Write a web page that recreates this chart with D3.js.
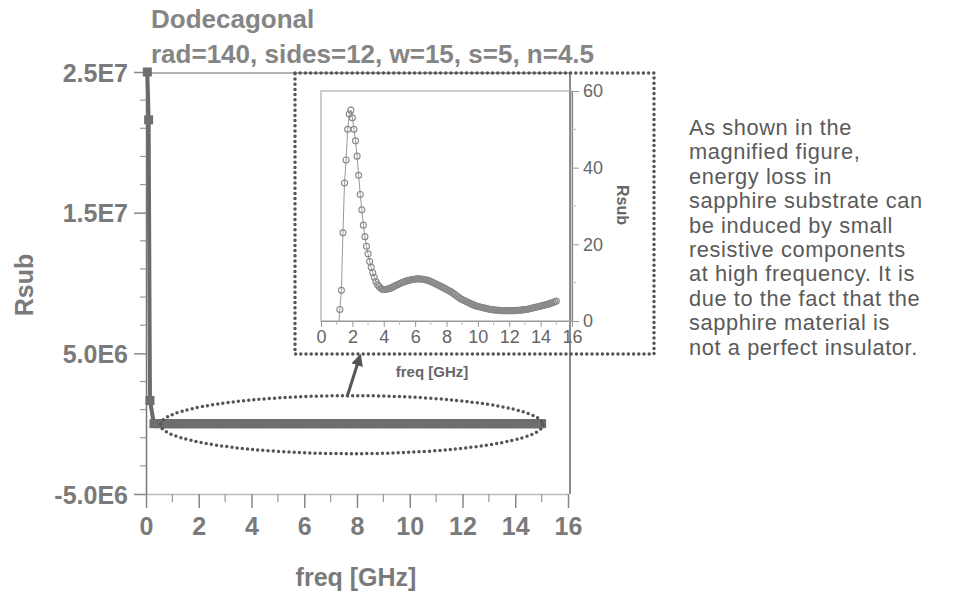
<html>
<head>
<meta charset="UTF-8">
<title>Rsub vs freq</title>
<script src="https://d3js.org/d3.v7.min.js"></script>
<style>
  body { margin: 0; background: #fff; }
  text { font-family: "Liberation Sans", Arial, sans-serif; }
  .lbl { font-weight: bold; fill: #7a7a7a; }
  .note { fill: #5a5a5a; font-size: 21.8px; letter-spacing: 0.6px; }
</style>
</head>
<body>
<svg id="chart" width="957" height="596"></svg>
<script>
// ---- data ----
const freqGHz = [
  0.05,0.1,0.15,0.3,0.45,0.6,0.7,0.8,0.9,1.0,
  1.1,1.2,1.3,1.4,1.5,1.6,1.7,1.8,1.9,2.0,
  2.1,2.2,2.3,2.4,2.5,2.6,2.7,2.8,2.9,3.0,
  3.1,3.2,3.3,3.4,3.5,3.6,3.7,3.8,3.9,4.0,
  4.1,4.2,4.3,4.4,4.5,4.6,4.7,4.8,4.9,5.0,
  5.1,5.2,5.3,5.4,5.5,5.6,5.7,5.8,5.9,6.0,
  6.1,6.2,6.3,6.4,6.5,6.6,6.7,6.8,6.9,7.0,
  7.1,7.2,7.3,7.4,7.5,7.6,7.7,7.8,7.9,8.0,
  8.1,8.2,8.3,8.4,8.5,8.6,8.7,8.8,8.9,9.0,
  9.1,9.2,9.3,9.4,9.5,9.6,9.7,9.8,9.9,10.0,
  10.1,10.2,10.3,10.4,10.5,10.6,10.7,10.8,10.9,11.0,
  11.1,11.2,11.3,11.4,11.5,11.6,11.7,11.8,11.9,12.0,
  12.1,12.2,12.3,12.4,12.5,12.6,12.7,12.8,12.9,13.0,
  13.1,13.2,13.3,13.4,13.5,13.6,13.7,13.8,13.9,14.0,
  14.1,14.2,14.3,14.4,14.5,14.6,14.7,14.8,14.9,15.0
];
const rsub = [
  2.5e7,2.16e7,1.65e6,-38,-34,-30,-26,-21,-15,-9,
  -3,3,8,23,36,42,50,54,55,53,
  50,47,43,38,33,29,25,22,19.5,17.5,
  15.5,14,12.6,11.4,10.3,9.5,9.0,8.6,8.3,8.2,
  8.2,8.3,8.4,8.5,8.7,8.9,9.1,9.3,9.5,9.7,
  9.9,10.1,10.2,10.4,10.5,10.6,10.7,10.8,10.9,10.9,
  11.0,11.0,11.0,10.9,10.9,10.8,10.7,10.6,10.5,10.3,
  10.1,9.9,9.7,9.5,9.3,9.1,8.9,8.7,8.5,8.2,
  8.0,7.8,7.6,7.3,7.0,6.7,6.4,6.1,5.8,5.6,
  5.4,5.2,5.0,4.8,4.6,4.4,4.2,4.1,3.9,3.8,
  3.7,3.6,3.5,3.4,3.3,3.2,3.1,3.0,3.0,2.9,
  2.9,2.8,2.8,2.8,2.7,2.7,2.7,2.7,2.7,2.7,
  2.7,2.7,2.7,2.7,2.8,2.8,2.8,2.9,2.9,3.0,
  3.0,3.1,3.2,3.3,3.4,3.5,3.6,3.7,3.8,3.9,
  4.0,4.1,4.2,4.3,4.4,4.6,4.7,4.9,5.0,5.2
];
const xTicks = [0, 2, 4, 6, 8, 10, 12, 14, 16];
const yTicks = [-5e6, 5e6, 1.5e7, 2.5e7];
const yTickLabels = ['-5.0E6', '5.0E6', '1.5E7', '2.5E7'];
const insetYTicks = [0, 20, 40, 60];
const titleLines = ['Dodecagonal', 'rad=140, sides=12, w=15, s=5, n=4.5'];
const noteLines = [
  'As shown in the', 'magnified figure,', 'energy loss in',
  'sapphire substrate can', 'be induced by small', 'resistive components',
  'at high frequency. It is', 'due to the fact that the',
  'sapphire material is', 'not a perfect insulator.'
];

const data = freqGHz.map((f, i) => ({f: f, r: rsub[i]}));

const svg = d3.select('svg#chart');

// ---- main chart ----
const x = d3.scaleLinear().domain([0, 16]).range([146, 568]);
const y = d3.scaleLinear().domain([-5e6, 2.5e7]).range([494, 72]);

// frame
svg.append('line').attr('x1', x(0)).attr('x2', 570).attr('y1', 73).attr('y2', 73)
  .attr('stroke', '#999').attr('stroke-width', 1.5);
svg.append('line').attr('x1', 570).attr('x2', 570).attr('y1', 73).attr('y2', 494)
  .attr('stroke', '#666').attr('stroke-width', 1.5);

// y axis
const yAxis = d3.axisLeft(y).tickValues(yTicks).tickFormat((d, i) => yTickLabels[i])
  .tickSize(12).tickSizeOuter(0).tickPadding(6);
const gy = svg.append('g').attr('transform', `translate(${x(0)},0)`).call(yAxis);
gy.select('.domain').attr('stroke', '#777').attr('stroke-width', 1.5);
gy.selectAll('.tick line').attr('stroke', '#888').attr('stroke-width', 1.5);
gy.selectAll('.tick text').attr('class', 'lbl').style('font-size', '25px').attr('dy', '0.36em');
const yMinor = d3.range(-3e6, 2.5e7, 2e6).filter(v => !yTicks.includes(v));
svg.append('g').selectAll('line').data(yMinor).join('line')
  .attr('x1', x(0) - 6).attr('x2', x(0))
  .attr('y1', d => y(d)).attr('y2', d => y(d))
  .attr('stroke', '#999').attr('stroke-width', 1.2);

// x axis
const xAxis = d3.axisBottom(x).tickValues(xTicks).tickSize(14).tickSizeOuter(0).tickPadding(9);
const gx = svg.append('g').attr('transform', `translate(0,${y(-5e6)})`).call(xAxis);
gx.select('.domain').attr('stroke', '#bbb').attr('stroke-width', 1.5);
gx.selectAll('.tick line').attr('stroke', '#888').attr('stroke-width', 1.5);
gx.selectAll('.tick text').attr('class', 'lbl').style('font-size', '25px');
svg.append('g').selectAll('line').data(d3.range(1, 16, 2)).join('line')
  .attr('x1', d => x(d)).attr('x2', d => x(d))
  .attr('y1', y(-5e6)).attr('y2', y(-5e6) + 8)
  .attr('stroke', '#999').attr('stroke-width', 1.2);

// labels
svg.append('text').attr('class', 'lbl').attr('x', 356).attr('y', 586)
  .attr('text-anchor', 'middle').style('font-size', '25px').text('freq [GHz]');
svg.append('text').attr('class', 'lbl')
  .attr('transform', 'translate(33,285) rotate(-90)')
  .attr('text-anchor', 'middle').style('font-size', '25px').text('Rsub');
svg.selectAll('text.title').data(titleLines).join('text')
  .attr('class', 'lbl title').attr('x', 151).attr('y', (d, i) => 28 + i * 35)
  .style('font-size', '26px').style('fill', '#858585').text(d => d);

// main series
const mainLine = d3.line().x(d => x(d.f)).y(d => y(d.r));
svg.append('path').datum(data).attr('d', mainLine)
  .attr('fill', 'none').attr('stroke', '#6a6a6a').attr('stroke-width', 4);
svg.append('g').selectAll('rect').data(data).join('rect')
  .attr('x', d => x(d.f) - 4.5).attr('y', d => y(d.r) - 4.5)
  .attr('width', 9).attr('height', 9).attr('fill', '#6e6e6e');

// ---- annotations ----
const dotted = sel => sel.attr('fill', 'none').attr('stroke', '#555')
  .attr('stroke-width', 3.5).attr('stroke-dasharray', '0 5.2').attr('stroke-linecap', 'round');
svg.append('ellipse').attr('cx', x(7.8)).attr('cy', y(0) + 1)
  .attr('rx', x(15.05) - x(7.8)).attr('ry', 29).call(dotted);
svg.append('rect').attr('x', 295).attr('y', 73).attr('width', 359).attr('height', 281).call(dotted);

svg.append('defs').append('marker').attr('id', 'head')
  .attr('viewBox', '0 0 10 10').attr('refX', 8).attr('refY', 5)
  .attr('markerWidth', 4).attr('markerHeight', 4).attr('orient', 'auto')
  .append('path').attr('d', 'M0,0 L10,5 L0,10 z').attr('fill', '#555');
svg.append('line').attr('x1', 347).attr('y1', 397).attr('x2', 360).attr('y2', 356)
  .attr('stroke', '#555').attr('stroke-width', 3).attr('marker-end', 'url(#head)');

// ---- inset ----
const ix = d3.scaleLinear().domain([0, 16]).range([321, 572]);
const iy = d3.scaleLinear().domain([0, 60]).range([321, 91]);
const inset = svg.append('g');

inset.append('rect').attr('x', ix(0)).attr('y', 91).attr('width', ix(16) - ix(0)).attr('height', 321 - 91)
  .attr('fill', 'none').attr('stroke', '#aaa').attr('stroke-width', 1.2);

inset.append('clipPath').attr('id', 'insetClip').append('rect')
  .attr('x', ix(0)).attr('y', 91).attr('width', ix(16) - ix(0)).attr('height', 321 - 91 + 1);

const insetData = data.filter(d => d.f >= 1.1);
const insetLine = d3.line().x(d => ix(d.f)).y(d => iy(d.r));
const plot = inset.append('g').attr('clip-path', 'url(#insetClip)');
plot.append('path').datum(insetData).attr('d', insetLine)
  .attr('fill', 'none').attr('stroke', '#999').attr('stroke-width', 1);
plot.selectAll('circle').data(insetData).join('circle')
  .attr('cx', d => ix(d.f)).attr('cy', d => iy(d.r)).attr('r', 3)
  .attr('fill', 'none').attr('stroke', '#888').attr('stroke-width', 1.1);

const iyAxis = d3.axisRight(iy).tickValues(insetYTicks).tickSize(7).tickSizeOuter(0).tickPadding(4);
const giy = inset.append('g').attr('transform', `translate(${ix(16)},0)`).call(iyAxis);
giy.select('.domain').attr('stroke', '#888').attr('stroke-width', 1.2);
giy.selectAll('.tick line').attr('stroke', '#999');
giy.selectAll('.tick text').style('font-size', '18px').style('fill', '#666');
inset.append('g').selectAll('line').data([10, 30, 50]).join('line')
  .attr('x1', ix(16)).attr('x2', ix(16) + 4).attr('y1', d => iy(d)).attr('y2', d => iy(d))
  .attr('stroke', '#bbb');

const ixAxis = d3.axisBottom(ix).tickValues(xTicks).tickSize(6).tickSizeOuter(0).tickPadding(3);
const gix = inset.append('g').attr('transform', `translate(0,${iy(0)})`).call(ixAxis);
gix.select('.domain').attr('stroke', '#999').attr('stroke-width', 1.2);
gix.selectAll('.tick line').attr('stroke', '#999');
gix.selectAll('.tick text').style('font-size', '18px').style('fill', '#666');
inset.append('g').selectAll('line').data(d3.range(1, 16, 2)).join('line')
  .attr('x1', d => ix(d)).attr('x2', d => ix(d)).attr('y1', iy(0)).attr('y2', iy(0) + 4)
  .attr('stroke', '#bbb');

inset.append('text').attr('x', 432).attr('y', 377).attr('text-anchor', 'middle')
  .style('font-size', '15px').style('font-weight', 'bold').style('fill', '#666').text('freq [GHz]');
inset.append('text').attr('transform', 'translate(617,205) rotate(90)').attr('text-anchor', 'middle')
  .style('font-size', '16px').style('font-weight', 'bold').style('fill', '#666').text('Rsub');

// ---- side note ----
svg.append('g').selectAll('text').data(noteLines).join('text')
  .attr('class', 'note').attr('x', 689).attr('y', (d, i) => 135 + i * 24.4).text(d => d);
</script>
</body>
</html>
